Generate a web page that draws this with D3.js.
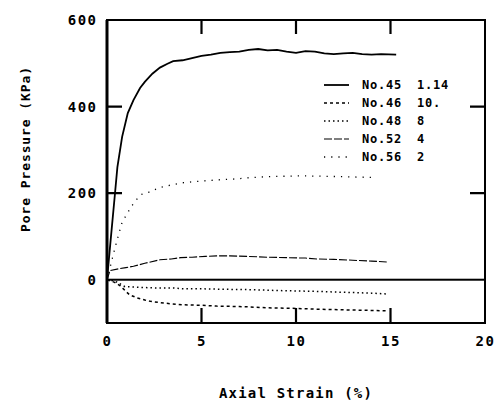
<!DOCTYPE html>
<html><head><meta charset="utf-8">
<script src="https://cdn.jsdelivr.net/npm/d3@7/dist/d3.min.js"></script>
<style>
body{margin:0;background:#fff;}
text{font-family:"DejaVu Sans Mono","Liberation Mono",monospace;font-weight:bold;fill:#000;}
</style></head><body>
<svg id="c" width="498" height="405"></svg>
<script>
const xTicks = [0,5,10,15,20];
const yTicks = [0,200,400,600];
const innerX = [5,10,15];
const innerY = [200,400];

const s45x = [0,0.2,0.42,0.55,0.8,1.1,1.4,1.75,2.0,2.4,2.8,3.2,3.5,4.0,4.5,5.0,5.5,6.0,6.5,7.0,7.5,8.0,8.5,9.0,9.5,10.0,10.5,11.0,11.5,12.0,12.5,13.0,13.5,14.0,14.5,15.3];
const s45y = [0,95,198,260,330,385,415,443,457,476,490,499,505,507,512,517,520,524,526,527,531,533,530,531,527,524,528,527,523,521,523,524,521,520,521,520];

const s46x = [0,0.4,0.7,1.0,1.2,1.6,2.0,2.3,3.0,4.0,5.0,5.8,7.0,7.6,8.5,9.8,11.0,12.0,12.9,14.0,14.8];
const s46y = [0,-6,-14,-27,-35,-42,-47,-50,-54,-58,-59,-61,-62,-63,-65,-66,-68,-69,-70,-71,-72];

const s48x = [0,0.3,0.5,0.95,1.4,1.9,2.6,3.5,4.0,5.0,6.0,7.6,9.0,10.0,11.1,12.5,14.0,14.8];
const s48y = [0,-2,-5,-16,-17,-18,-19,-19,-21,-21,-22,-23,-25,-26,-27,-29,-31,-33];

const s52x = [0,0.16,0.6,1.0,1.4,2.0,2.8,3.4,3.9,4.5,5.2,5.8,6.5,7.4,8.5,9.5,10.5,11.1,12.0,13.0,14.0,14.8];
const s52y = [0,21,25,28,31,38,46,48,51,52,54,55,55,54,52,51,50,48,47,45,43,41];

const s56x = [0,0.4,0.8,1.3,1.75,2.2,2.8,3.4,4.0,5.0,6.0,6.9,7.6,8.5,10.2,11.5,12.5,14.2];
const s56y = [0,70,133,170,196,202,213,219,224,228,231,233,236,238,240,239,238,236];

const names = ["No.45","No.46","No.48","No.52","No.56"];
const pressures = ["1.14","10.","8","4","2"];

const svg = d3.select("#c");
const x = d3.scaleLinear().domain([0,20]).range([107,485]);
const y = d3.scaleLinear().domain([-100,600]).range([323,20]);

// frame
svg.append("rect").attr("x",x(0)).attr("y",y(600)).attr("width",x(20)-x(0)).attr("height",y(-100)-y(600))
  .attr("fill","none").attr("stroke","#000").attr("stroke-width",2);
svg.append("rect").attr("x",x(0)-1.5).attr("y",y(600)).attr("width",3).attr("height",y(-100)-y(600)).attr("fill","#000");

// axes (labels)
const bx = svg.append("g").attr("transform",`translate(0,${y(-100)})`)
  .call(d3.axisBottom(x).tickValues(xTicks).tickSize(0).tickPadding(13).tickFormat(d3.format("d")));
const ly = svg.append("g").attr("transform",`translate(${x(0)},0)`)
  .call(d3.axisLeft(y).tickValues(yTicks).tickSize(0).tickPadding(11).tickFormat(d3.format("d")));
[bx,ly].forEach(g=>{
  g.select(".domain").remove();
  g.selectAll("text").style("font-size","14px").style("letter-spacing","1.5px").attr("fill","#000");
});
ly.selectAll("text").attr("dx","1.5px");

// inward tick marks drawn as paths in pixel space derived from scales
const tickPath = d3.path();
innerX.forEach(v=>{
  tickPath.moveTo(x(v), y(-100)); tickPath.lineTo(x(v), y(-100)-15);
  tickPath.moveTo(x(v), y(600)); tickPath.lineTo(x(v), y(600)+14);
});
innerY.forEach(v=>{
  tickPath.moveTo(x(0), y(v)); tickPath.lineTo(x(0)+15, y(v));
  tickPath.moveTo(x(20), y(v)); tickPath.lineTo(x(20)-15, y(v));
});
svg.append("path").attr("d",tickPath.toString()).attr("fill","none").attr("stroke","#000").attr("stroke-width",2.2);

// zero line
svg.append("rect").attr("x",x(0)).attr("y",y(0)-1).attr("width",x(20)-x(0)).attr("height",2).attr("fill","#000");

const line = d3.line().x(d=>x(d[0])).y(d=>y(d[1]));
const series = [
  {xs:s45x, ys:s45y, dash:null, w:1.8},
  {xs:s46x, ys:s46y, dash:"3,3", w:1.5},
  {xs:s48x, ys:s48y, dash:"1.5,3", w:1.5},
  {xs:s52x, ys:s52y, dash:"8,2", w:1.1},
  {xs:s56x, ys:s56y, dash:"1.2,6", w:1.3}
];
series.forEach(s=>{
  svg.append("path").datum(s.xs.map((v,i)=>[v,s.ys[i]])).attr("d",line)
    .attr("fill","none").attr("stroke","#000").attr("stroke-width",s.w)
    .attr("stroke-dasharray",s.dash);
});

// legend
const lg = svg.append("g");
series.forEach((s,i)=>{
  const yy = 85 + i*18;
  lg.append("line").attr("x1",324).attr("x2",349).attr("y1",yy).attr("y2",yy)
    .attr("stroke","#000").attr("stroke-width",s.w).attr("stroke-dasharray",s.dash);
  lg.append("text").attr("x",362).attr("y",yy+4).style("font-size","12px").style("letter-spacing","0.8px").text(names[i]);
  lg.append("text").attr("x",417).attr("y",yy+4).style("font-size","12px").style("letter-spacing","0.8px").text(pressures[i]);
});

// axis titles
svg.append("text").attr("x",(x(0)+x(20))/2).attr("y",398).attr("text-anchor","middle")
  .style("font-size","14px").style("letter-spacing","1.2px").text("Axial Strain (%)");
svg.append("text").attr("transform","translate(30,149) rotate(-90)").attr("text-anchor","middle")
  .style("font-size","13px").style("letter-spacing","0.9px").text("Pore Pressure (KPa)");
</script></body></html>
